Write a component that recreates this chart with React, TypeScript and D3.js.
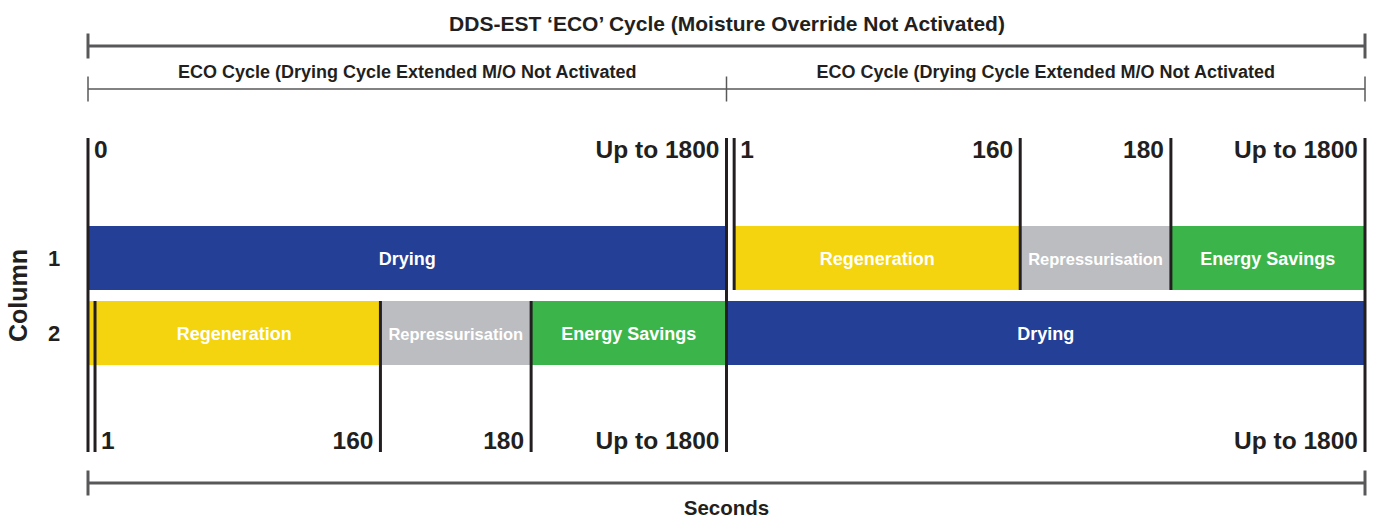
import { useEffect, useRef } from 'react';
import * as d3 from 'd3';

// Timeline breakpoints (seconds, two cycles laid end to end) and their share of the drawing width
const breakpoints = [0, 1, 160, 180, 1800, 1801, 1960, 1980, 3600];
const breakShare = [0, 0.0055, 0.229, 0.347, 0.5, 0.506, 0.73, 0.848, 1];

const rows = ['1', '2'];

const phases = [
  { row: '1', name: 'Drying', start: 0, end: 1800, kind: 'drying' },
  { row: '1', name: 'Regeneration', start: 1801, end: 1960, kind: 'regen' },
  { row: '1', name: 'Repressurisation', start: 1960, end: 1980, kind: 'repress' },
  { row: '1', name: 'Energy Savings', start: 1980, end: 3597, kind: 'energy' },
  { row: '2', name: 'Regeneration', start: 0, end: 160, kind: 'regen' },
  { row: '2', name: 'Repressurisation', start: 160, end: 180, kind: 'repress' },
  { row: '2', name: 'Energy Savings', start: 180, end: 1800, kind: 'energy' },
  { row: '2', name: 'Drying', start: 1800, end: 3600, kind: 'drying' },
];

// markers above the bars / below the bars; span: 'full' crosses both rows
const topMarkers = [
  { t: 0, label: '0', anchor: 'start', span: 'full' },
  { t: 1800, label: 'Up to 1800', anchor: 'end', span: 'full' },
  { t: 1801, label: '1', anchor: 'start', span: 'top' },
  { t: 1960, label: '160', anchor: 'end', span: 'top' },
  { t: 1980, label: '180', anchor: 'end', span: 'top' },
  { t: 3600, label: 'Up to 1800', anchor: 'end', span: 'full' },
];
const bottomMarkers = [
  { t: 1, label: '1', anchor: 'start' },
  { t: 160, label: '160', anchor: 'end' },
  { t: 180, label: '180', anchor: 'end' },
  { t: 1800, label: 'Up to 1800', anchor: 'end' },
  { t: 3600, label: 'Up to 1800', anchor: 'end' },
];

const title = 'DDS-EST \u2018ECO\u2019 Cycle (Moisture Override Not Activated)';
const subTitles = [
  { start: 0, end: 1800, label: 'ECO Cycle (Drying Cycle Extended M/O Not Activated' },
  { start: 1800, end: 3600, label: 'ECO Cycle (Drying Cycle Extended M/O Not Activated' },
];

const COLORS: Record<string, string> = {
  drying: '#233f96',
  regen: '#f4d30f',
  repress: '#bcbdc0',
  energy: '#3bb54a',
};
const INK = '#231f20';
const BRACKET = '#58585a';
const FONT = '"Liberation Sans", Arial, Helvetica, sans-serif';

export default function App() {
  const ref = useRef<SVGSVGElement>(null);

  useEffect(() => {
    if (!ref.current) return;
    const svg = d3.select(ref.current);
    svg.selectAll('*').remove();

    const left = 88;
    const right = 1365;
    const innerW = right - left;

    const x = d3.scaleLinear()
      .domain(breakpoints)
      .range(breakShare.map(s => left + s * innerW));

    const y = d3.scaleBand().domain(rows).range([226, 365]).paddingInner(0.147);

    const lineTop = 138;
    const lineBottom = 452;

    // ── brackets ──
    const bracket = (yy: number, x0: number, x1: number, sw: number, ticks: number[]) => {
      const g = svg.append('g').attr('stroke', BRACKET).attr('stroke-width', sw);
      g.append('line').attr('x1', x0).attr('x2', x1).attr('y1', yy).attr('y2', yy);
      ticks.forEach(tx => {
        g.append('line').attr('x1', tx).attr('x2', tx).attr('y1', yy - 12.5).attr('y2', yy + 12.5);
      });
    };

    svg.append('text')
      .attr('x', 727).attr('y', 31)
      .attr('text-anchor', 'middle')
      .attr('font-family', FONT).attr('font-weight', 'bold').attr('font-size', 21)
      .attr('fill', INK)
      .text(title);
    bracket(46, x(0), x(3600), 3, [x(0), x(3600)]);

    subTitles.forEach(s => {
      svg.append('text')
        .attr('x', (x(s.start) + x(s.end)) / 2).attr('y', 78)
        .attr('text-anchor', 'middle')
        .attr('font-family', FONT).attr('font-weight', 'bold').attr('font-size', 18)
        .attr('fill', INK)
        .text(s.label);
    });
    bracket(89, x(0), x(3600), 1.5, [x(0), x(1800), x(3600)]);

    // ── bars ──
    phases.forEach(p => {
      const x0 = x(p.start);
      const x1 = x(p.end);
      const y0 = y(p.row)!;
      svg.append('rect')
        .attr('x', x0).attr('y', y0)
        .attr('width', x1 - x0).attr('height', y.bandwidth())
        .attr('fill', COLORS[p.kind]);
      svg.append('text')
        .attr('x', (x0 + x1) / 2).attr('y', y0 + y.bandwidth() / 2)
        .attr('dy', '0.4em')
        .attr('text-anchor', 'middle')
        .attr('font-family', FONT).attr('font-weight', 'bold')
        .attr('font-size', p.kind === 'repress' ? 16.5 : 18)
        .attr('fill', '#ffffff')
        .text(p.name);
    });

    // ── marker lines + labels ──
    const row1 = y('1')!;
    const row2 = y('2')!;
    const mk = svg.append('g');
    topMarkers.forEach(m => {
      const mx = x(m.t);
      mk.append('line')
        .attr('x1', mx).attr('x2', mx)
        .attr('y1', lineTop)
        .attr('y2', m.span === 'full' ? lineBottom : row1 + y.bandwidth())
        .attr('stroke', INK).attr('stroke-width', 3);
      mk.append('text')
        .attr('x', m.anchor === 'start' ? mx + 6 : mx - 7).attr('y', 158)
        .attr('text-anchor', m.anchor)
        .attr('font-family', FONT).attr('font-weight', 'bold').attr('font-size', 24.5)
        .attr('fill', INK)
        .text(m.label);
    });
    bottomMarkers.forEach(m => {
      const mx = x(m.t);
      if (m.t !== 1800 && m.t !== 3600) {
        mk.append('line')
          .attr('x1', mx).attr('x2', mx)
          .attr('y1', row2).attr('y2', lineBottom)
          .attr('stroke', INK).attr('stroke-width', 3);
      }
      mk.append('text')
        .attr('x', m.anchor === 'start' ? mx + 6 : mx - 7).attr('y', 449)
        .attr('text-anchor', m.anchor)
        .attr('font-family', FONT).attr('font-weight', 'bold').attr('font-size', 24.5)
        .attr('fill', INK)
        .text(m.label);
    });

    // ── row labels ──
    rows.forEach(r => {
      svg.append('text')
        .attr('x', 54).attr('y', y(r)! + y.bandwidth() / 2)
        .attr('dy', '0.36em')
        .attr('text-anchor', 'middle')
        .attr('font-family', FONT).attr('font-weight', 'bold').attr('font-size', 22)
        .attr('fill', INK)
        .text(r);
    });
    svg.append('text')
      .attr('transform', `translate(27, ${(row1 + row2 + y.bandwidth()) / 2}) rotate(-90)`)
      .attr('text-anchor', 'middle')
      .attr('font-family', FONT).attr('font-weight', 'bold').attr('font-size', 25)
      .attr('fill', INK)
      .text('Column');

    // ── bottom axis bracket ──
    bracket(483, x(0), x(3600), 3, [x(0), x(3600)]);
    svg.append('text')
      .attr('x', x(1800)).attr('y', 515)
      .attr('text-anchor', 'middle')
      .attr('font-family', FONT).attr('font-weight', 'bold').attr('font-size', 20.5)
      .attr('fill', INK)
      .text('Seconds');
  }, []);

  return (
    <svg
      ref={ref}
      width={1375}
      height={518}
      style={{ position: 'absolute', left: 0, top: 0, background: '#ffffff' }}
    />
  );
}
